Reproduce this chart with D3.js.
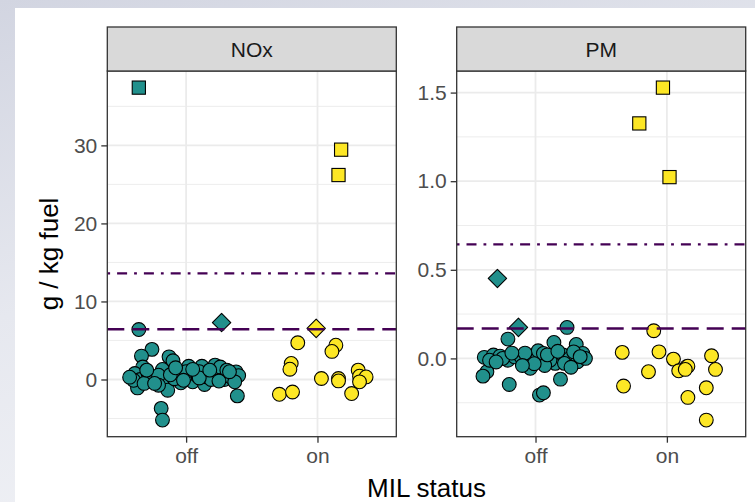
<!DOCTYPE html>
<html>
<head>
<meta charset="utf-8">
<script src="https://cdn.jsdelivr.net/npm/d3@7"></script>
<style>
  html, body { margin: 0; padding: 0; }
  body { width: 755px; height: 502px; overflow: hidden;
         background: linear-gradient(165deg, #d2d5e1 0%, #e6e8ef 45%, #f4f5f8 100%); }
  svg { display: block; }
  text { font-family: "Liberation Sans", Arial, sans-serif; }
</style>
</head>
<body>
<svg id="chart" width="755" height="502"></svg>
<script>
// ---------------- data ----------------
const panels = ["NOx", "PM"];
const statusCategories = ["off", "on"];
const yAxisTitle = "g / kg fuel";
const xAxisTitle = "MIL status";

// tick labels / breaks
const noxTicks = [0, 10, 20, 30];
const noxMinor = [-5, 5, 15, 25, 35];
const pmTicks = [0, 0.5, 1.0, 1.5];
const pmMinor = [-0.25, 0.25, 0.75, 1.25];

// reference lines (dashed, dot-dash)
const noxDashed = 6.43, noxDotDash = 13.6;
const pmDashed = 0.169, pmDotDash = 0.643;

// NOx, MIL off: jitter (category units) and value
const noxOffJitter = [-0.36,-0.26,-0.34,-0.13,-0.10,0.02,0.12,0.22,0.38,-0.33,-0.39,-0.35,-0.25,-0.15,-0.04,0.05,0.14,0.29,-0.37,-0.14,0.21,-0.18,-0.06,0.08,0.39,-0.29,-0.21,0.16,0.34,-0.40,0.26,-0.01,-0.32,-0.21,-0.19,-0.18,0.40,0.31,0.10,-0.09,0.19,-0.43,0.00,0.37,-0.30,-0.24,-0.12,-0.02,0.10,0.18,0.25,0.33,-0.08,0.05];
const noxOffValue  = [6.4,3.86,3.0,2.9,2.4,1.7,1.7,1.84,0.98,1.6,0.77,0.0,-0.18,-0.1,-0.43,-0.3,-0.64,0.0,-1.08,-1.37,0.85,1.29,0.77,0.55,-2.1,0.77,0.55,0.33,0.33,-0.1,1.6,0.33,-0.5,-0.73,-3.7,-5.2,0.5,1.2,1.0,0.1,0.0,0.3,1.0,-0.3,1.2,-0.5,0.6,-0.1,0.2,1.2,-0.2,1.0,1.5,1.3];
// NOx, MIL on
const noxOnJitter = [-0.15,0.14,0.11,-0.20,-0.21,0.03,0.16,0.16,0.31,0.32,0.37,0.32,0.26,-0.29,-0.19];
const noxOnValue  = [4.7,4.4,3.6,2.06,1.32,0.13,0.13,-0.18,1.2,0.42,0.33,-0.3,-1.8,-1.9,-1.6];
// NOx special points (diamonds / squares)
const noxDiamondStatus = ["off", "on"];
const noxDiamondJitter = [0.27, -0.01];
const noxDiamondValue  = [7.3, 6.55];
const noxSquareStatus = ["off", "on", "on"];
const noxSquareJitter = [-0.36, 0.18, 0.16];
const noxSquareValue  = [37.4, 29.45, 26.2];

// PM, MIL off
const pmOffJitter = [0.24,-0.21,0.14,0.31,-0.39,-0.32,-0.27,-0.21,-0.16,-0.11,-0.04,0.02,0.06,0.15,0.21,0.26,0.32,0.36,0.38,-0.37,-0.40,-0.20,0.03,0.06,0.19,-0.04,0.11,-0.35,-0.25,0.29,0.22,-0.08,0.07,-0.30,-0.18,-0.01,0.09,0.17,0.27,0.34,-0.10];
const pmOffValue  = [0.175,0.109,0.09,0.079,0.006,0.019,0.013,-0.01,0.009,0.009,0.0,0.043,0.028,-0.028,0.019,0.0,-0.019,0.028,0.0,-0.075,-0.1,-0.147,-0.207,-0.194,-0.117,-0.056,-0.01,-0.01,0.0,0.037,-0.028,0.03,-0.04,-0.02,0.03,-0.03,0.02,0.04,-0.05,0.01,-0.04];
// PM, MIL on
const pmOnJitter = [-0.10,-0.34,-0.06,0.05,0.34,-0.14,0.37,0.15,0.16,0.09,0.14,-0.33,0.30,0.16,0.30];
const pmOnValue  = [0.156,0.034,0.037,-0.004,0.015,-0.075,-0.062,-0.047,-0.044,-0.07,-0.062,-0.156,-0.166,-0.22,-0.348];
// PM special points
const pmDiamondStatus = ["off", "off"];
const pmDiamondJitter = [-0.29, -0.13];
const pmDiamondValue  = [0.451, 0.175];
const pmSquareStatus = ["on", "on", "on"];
const pmSquareJitter = [-0.21, -0.03, 0.02];
const pmSquareValue  = [1.326, 1.528, 1.023];

// ---------------- build ----------------
const colorOf = { off: "#21908C", on: "#FDE725" };
const lineColor = "#440154";

function pts(status, jit, val, shape) {
  return val.map((v, i) => ({ status: Array.isArray(status) ? status[i] : status, jitter: jit[i], value: v, shape }));
}

const panelData = {
  NOx: {
    points: [].concat(
      pts("off", noxOffJitter, noxOffValue, "circle"),
      pts("on", noxOnJitter, noxOnValue, "circle"),
      pts(noxDiamondStatus, noxDiamondJitter, noxDiamondValue, "diamond"),
      pts(noxSquareStatus, noxSquareJitter, noxSquareValue, "square")),
    ticks: noxTicks, minor: noxMinor, fmt: d3.format("d"),
    dashed: noxDashed, dotdash: noxDotDash
  },
  PM: {
    points: [].concat(
      pts("off", pmOffJitter, pmOffValue, "circle"),
      pts("on", pmOnJitter, pmOnValue, "circle"),
      pts(pmDiamondStatus, pmDiamondJitter, pmDiamondValue, "diamond"),
      pts(pmSquareStatus, pmSquareJitter, pmSquareValue, "square")),
    ticks: pmTicks, minor: pmMinor, fmt: d3.format(".1f"),
    dashed: pmDashed, dotdash: pmDotDash
  }
};

const svg = d3.select("#chart");
// white plot background
svg.append("rect").attr("x", 15).attr("y", 8).attr("width", 740).attr("height", 494).attr("fill", "#ffffff");

const panelLeft = { NOx: 107.3, PM: 456.7 };
const panelW = 289;
const stripTop = 27, plotTop = 71, plotBottom = 436.7;

function extentExpanded(vals) {
  const [a, b] = d3.extent(vals);
  const pad = (b - a) * 0.05;
  return [a - pad, b + pad];
}

panels.forEach(name => {
  const pd = panelData[name];
  const x0 = panelLeft[name];
  const g = svg.append("g");

  const x = d3.scalePoint().domain(statusCategories).range([x0, x0 + panelW]).padding(0.6);
  const allVals = pd.points.map(p => p.value);
  const y = d3.scaleLinear().domain(extentExpanded(allVals)).range([plotBottom, plotTop]);

  // panel background
  g.append("rect").attr("x", x0).attr("y", plotTop).attr("width", panelW).attr("height", plotBottom - plotTop).attr("fill", "#fff");

  // minor grid
  g.selectAll(".minor").data(pd.minor).join("line")
    .attr("x1", x0).attr("x2", x0 + panelW)
    .attr("y1", d => y(d)).attr("y2", d => y(d))
    .attr("stroke", "#ebebeb").attr("stroke-width", 0.9);
  // major grid
  g.selectAll(".major").data(pd.ticks).join("line")
    .attr("x1", x0).attr("x2", x0 + panelW)
    .attr("y1", d => y(d)).attr("y2", d => y(d))
    .attr("stroke", "#ebebeb").attr("stroke-width", 1.8);
  g.selectAll(".vmajor").data(statusCategories).join("line")
    .attr("x1", d => x(d)).attr("x2", d => x(d))
    .attr("y1", plotTop).attr("y2", plotBottom)
    .attr("stroke", "#ebebeb").attr("stroke-width", 1.8);

  // points
  const step = x.step();
  const px = d => x(d.status) + d.jitter * step;
  const gp = g.append("g").attr("stroke", "#000").attr("stroke-width", 1.1);
  pd.points.forEach(d => {
    const cx = px(d), cy = y(d.value);
    if (d.shape === "circle") {
      gp.append("circle").attr("cx", cx).attr("cy", cy).attr("r", 6.9).attr("fill", colorOf[d.status]);
    } else if (d.shape === "square") {
      gp.append("rect").attr("x", cx - 6.6).attr("y", cy - 6.6).attr("width", 13.2).attr("height", 13.2).attr("fill", colorOf[d.status]);
    } else {
      const s = 9.2;
      gp.append("path").attr("d", `M${cx},${cy - s}L${cx + s},${cy}L${cx},${cy + s}L${cx - s},${cy}Z`)
        .attr("fill", colorOf[d.status]).attr("stroke-linejoin", "round");
    }
  });

  // reference lines
  g.append("line").attr("x1", x0).attr("x2", x0 + panelW)
    .attr("y1", y(pd.dashed)).attr("y2", y(pd.dashed))
    .attr("stroke", lineColor).attr("stroke-width", 2.6).attr("stroke-dasharray", "17,8");
  g.append("line").attr("x1", x0).attr("x2", x0 + panelW)
    .attr("y1", y(pd.dotdash)).attr("y2", y(pd.dotdash))
    .attr("stroke", lineColor).attr("stroke-width", 2.2).attr("stroke-dasharray", "2.8,7,10,7");

  // panel border
  g.append("rect").attr("x", x0).attr("y", plotTop).attr("width", panelW).attr("height", plotBottom - plotTop)
    .attr("fill", "none").attr("stroke", "#333").attr("stroke-width", 1.3);

  // strip
  g.append("rect").attr("x", x0).attr("y", stripTop).attr("width", panelW).attr("height", plotTop - stripTop)
    .attr("fill", "#d9d9d9").attr("stroke", "#333").attr("stroke-width", 1.3);
  g.append("text").attr("x", x0 + panelW / 2).attr("y", (stripTop + plotTop) / 2)
    .attr("text-anchor", "middle").attr("dominant-baseline", "central")
    .attr("font-size", 21).attr("fill", "#1a1a1a").text(name);

  // y axis
  const ya = d3.axisLeft(y).tickValues(pd.ticks).tickFormat(pd.fmt).tickSize(6).tickPadding(4);
  const yg = svg.append("g").attr("transform", `translate(${x0},0)`).call(ya);
  yg.select(".domain").remove();
  yg.selectAll(".tick line").attr("stroke", "#333").attr("stroke-width", 1.3);
  yg.selectAll(".tick text").attr("font-size", 21).attr("fill", "#4d4d4d").attr("font-family", "Liberation Sans, Arial, sans-serif");

  // x axis
  const xa = d3.axisBottom(x).tickSize(6).tickPadding(5);
  const xg = svg.append("g").attr("transform", `translate(0,${plotBottom})`).call(xa);
  xg.select(".domain").remove();
  xg.selectAll(".tick line").attr("stroke", "#333").attr("stroke-width", 1.3);
  xg.selectAll(".tick text").attr("font-size", 21).attr("fill", "#4d4d4d").attr("font-family", "Liberation Sans, Arial, sans-serif");
});

// axis titles
svg.append("text").attr("x", (panelLeft.NOx + panelLeft.PM + panelW) / 2).attr("y", 497)
  .attr("text-anchor", "middle").attr("font-size", 26).attr("fill", "#000").text(xAxisTitle);
svg.append("text").attr("transform", "translate(58,254) rotate(-90)")
  .attr("text-anchor", "middle").attr("font-size", 26).attr("fill", "#000").text(yAxisTitle);
</script>
</body>
</html>
